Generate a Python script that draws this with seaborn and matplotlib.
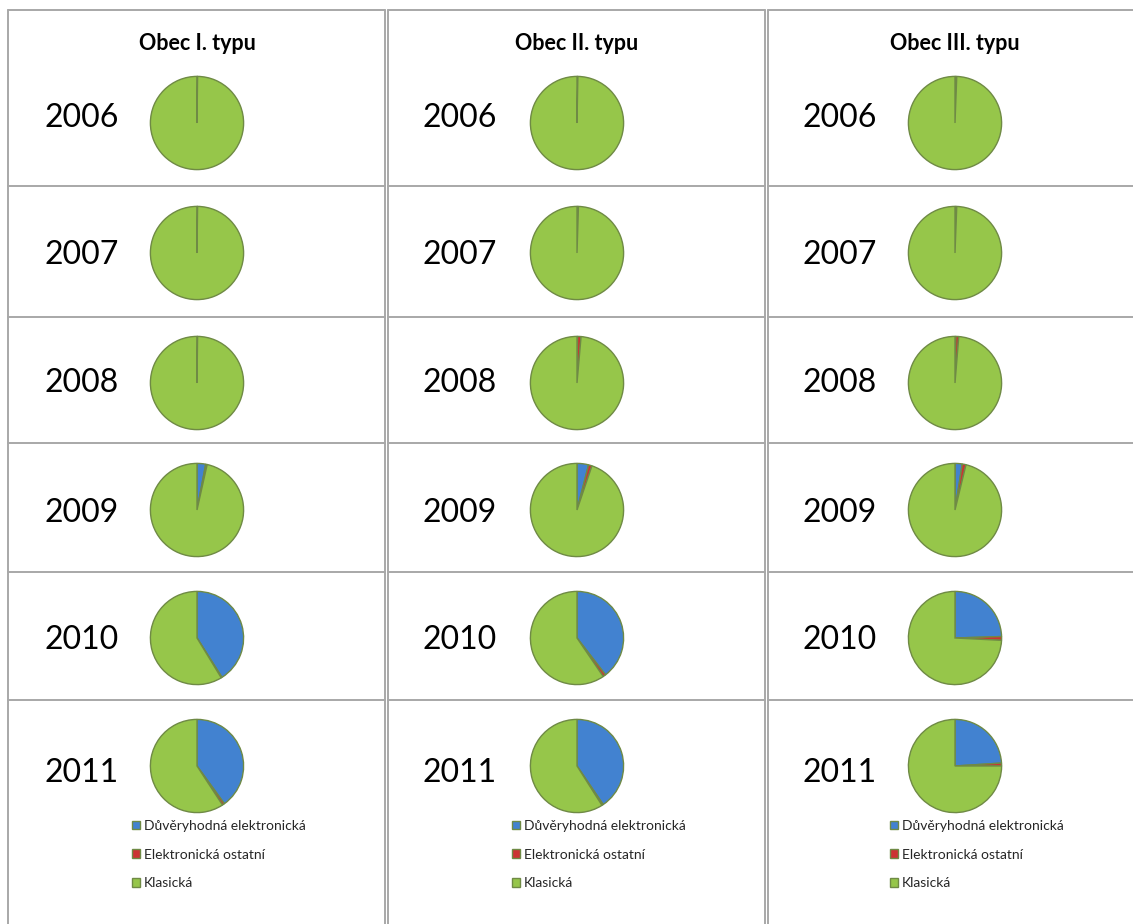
import matplotlib
matplotlib.use("Agg")
import matplotlib.pyplot as plt
from matplotlib.lines import Line2D
import seaborn as sns

# shares of submissions (%), one list per municipality type, rows = years
years = ["2006", "2007", "2008", "2009", "2010", "2011"]
column_titles = ["Obec I. typu", "Obec II. typu", "Obec III. typu"]
series_names = ["Důvěryhodná elektronická", "Elektronická ostatní", "Klasická"]

duveryhodna = [
    [0.1, 0.1, 0.1, 3.0, 41.0, 40.0],
    [0.1, 0.1, 0.2, 4.0, 39.5, 40.5],
    [0.1, 0.1, 0.3, 2.5, 24.5, 24.0],
]
ostatni = [
    [0.1, 0.1, 0.1, 0.5, 0.3, 0.8],
    [0.2, 0.4, 1.2, 1.2, 1.0, 0.5],
    [0.5, 0.5, 1.0, 1.3, 1.3, 1.0],
]
klasicka = [
    [100 - a - b for a, b in zip(duveryhodna[i], ostatni[i])] for i in range(3)
]

colors = ["#4282d0", "#cc3333", "#96c64a"]

sns.set_theme(style="white")
plt.rcParams["font.family"] = ["Lato", "DejaVu Sans"]

W, H = 1133, 924
fig = plt.figure(figsize=(W / 100, H / 100), dpi=100)
fig.patch.set_facecolor("white")


def px_line(x0, y0, x1, y1):
    fig.add_artist(Line2D([x0 / W, x1 / W], [1 - y0 / H, 1 - y1 / H],
                          transform=fig.transFigure, color="#a8a8a8", lw=1.4))


# table grid
col_edges = [(8, 385), (388, 765), (768, 1140)]
row_lines = [10, 186, 317, 443, 572, 700]
for left, right in col_edges:
    px_line(left, 10, left, H)
    px_line(right, 10, right, H)
    for y in row_lines:
        px_line(left, y, right, y)

pie_y = [123, 253, 383, 510, 638, 766]
text_y = [118, 255, 383, 513, 640, 773]
pie_x = [197, 577, 955]
year_x = [82, 460, 840]
r = 48

for c in range(3):
    fig.text(pie_x[c] / W, 1 - 43 / H, column_titles[c], ha="center", va="center",
             fontsize=15.5, fontweight="bold", color="black")
    for i, yr in enumerate(years):
        fig.text(year_x[c] / W, 1 - text_y[i] / H, yr, ha="center", va="center",
                 fontsize=23, color="black")
        ax = fig.add_axes([(pie_x[c] - r) / W, 1 - (pie_y[i] + r) / H, 2 * r / W, 2 * r / H])
        vals = [duveryhodna[c][i], ostatni[c][i], klasicka[c][i]]
        wedges, _ = ax.pie(vals, colors=colors, startangle=90, counterclock=False,
                           wedgeprops=dict(edgecolor="#6f8a45", linewidth=1.0))
        ax.set_xlim(-1.03, 1.03)
        ax.set_ylim(-1.03, 1.03)
        ax.set_aspect("equal")
        ax.axis("off")
        if i == len(years) - 1:
            ax.legend(wedges, series_names, loc="upper left",
                      bbox_to_anchor=((pie_x[c] - 72) / W, 1 - 813 / H),
                      bbox_transform=fig.transFigure, frameon=False,
                      fontsize=10, handlelength=0.6, handleheight=0.6,
                      handletextpad=0.25, labelspacing=1.2, borderpad=0)

fig.savefig("out.png", dpi=100)
